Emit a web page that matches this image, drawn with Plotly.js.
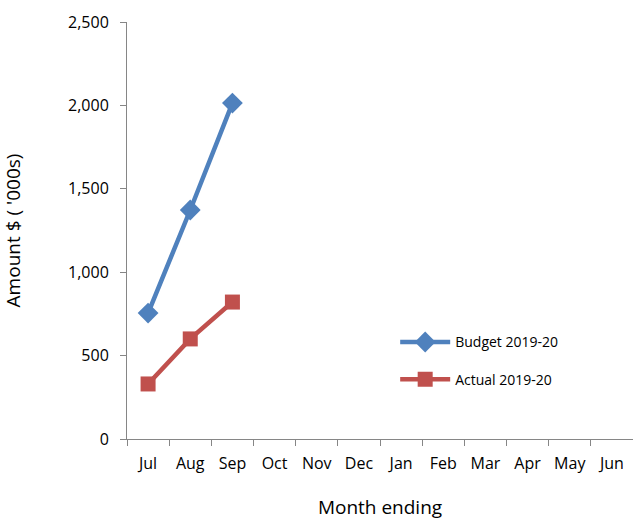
<!DOCTYPE html>
<html>
<head>
<meta charset="utf-8">
<script src="https://cdn.plot.ly/plotly-3.0.1.min.js"></script>
<style>body{margin:0;background:#fff}</style>
</head>
<body>
<div id="graph" style="width:633px;height:520px"></div>
<script>
var months = ['Jul', 'Aug', 'Sep', 'Oct', 'Nov', 'Dec', 'Jan', 'Feb', 'Mar', 'Apr', 'May', 'Jun'];
var budgetMonths = ['Jul', 'Aug', 'Sep'];
var budget = [755, 1373, 2014];
var actual = [330, 600, 821];

var graph = document.getElementById('graph');

var layout = {
  width: 633,
  height: 520,
  margin: {l: 127, r: 0, t: 22, b: 81},
  paper_bgcolor: '#fff',
  plot_bgcolor: '#fff',
  font: {family: 'Open Sans, Liberation Sans, sans-serif', size: 16, color: '#000'},
  xaxis: {
    type: 'category',
    categoryarray: months,
    categoryorder: 'array',
    range: [-0.5, 11.5],
    tickson: 'boundaries',
    ticks: 'outside',
    ticklen: 6,
    tickcolor: '#868686',
    ticklabelstandoff: 10,
    showline: true,
    linecolor: '#868686',
    showgrid: false,
    zeroline: false,
    title: {text: 'Month ending', standoff: 28}
  },
  yaxis: {
    range: [0, 2500],
    dtick: 500,
    tickformat: ',d',
    ticks: 'outside',
    ticklen: 6,
    tickcolor: '#868686',
    ticklabelstandoff: 8,
    showline: true,
    linecolor: '#868686',
    showgrid: false,
    zeroline: false,
    title: {text: "Amount $ ( '000s)", standoff: 44}
  },
  showlegend: true,
  legend: {
    x: 0.53, y: 0.27, xanchor: 'left', yanchor: 'top',
    bgcolor: 'rgba(0,0,0,0)',
    font: {size: 14},
    traceorder: 'grouped',
    tracegroupgap: 16,
    itemwidth: 50
  }
};

Plotly.newPlot(graph, [{
  x: budgetMonths,
  y: budget,
  name: 'Budget 2019-20',
  legendgroup: 'b',
  mode: 'lines+markers',
  line: {color: '#4F81BD', width: 4.5},
  marker: {symbol: 'diamond', size: 16, color: '#4F81BD'}
}, {
  x: budgetMonths,
  y: actual,
  name: 'Actual 2019-20',
  legendgroup: 'a',
  mode: 'lines+markers',
  line: {color: '#C0504D', width: 4.5},
  marker: {symbol: 'square', size: 15, color: '#C0504D'}
}], layout, {displayModeBar: false});
</script>
</body>
</html>
